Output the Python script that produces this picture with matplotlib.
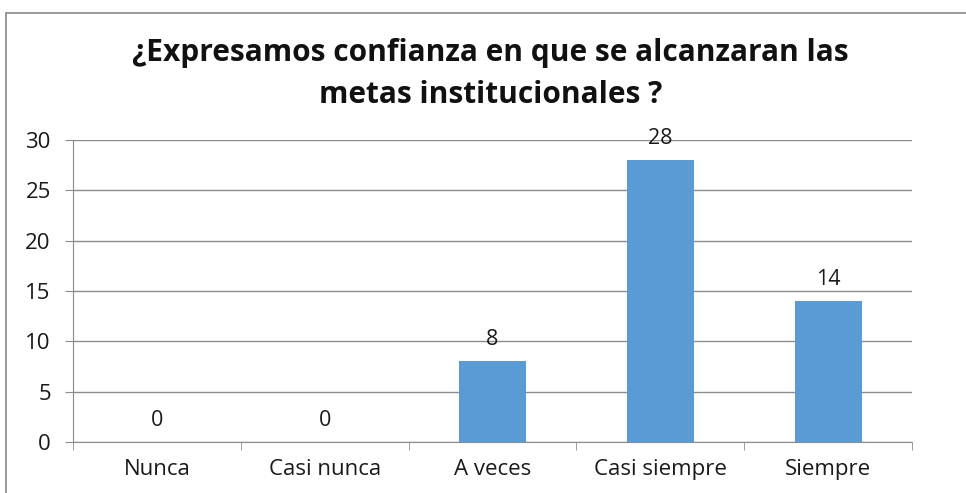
import matplotlib.pyplot as plt
from matplotlib.patches import Rectangle

categorias = ["Nunca", "Casi nunca", "A veces", "Casi siempre", "Siempre"]
valores = [0, 0, 8, 28, 14]
titulo = "¿Expresamos confianza en que se alcanzaran las\nmetas institucionales ?"

W, H = 966, 493
fig = plt.figure(figsize=(W / 100, H / 100), dpi=100)
fig.patch.set_facecolor("white")

# marco del grafico
fig.patches.append(Rectangle((6 / W, -0.05), 1.2, (H - 13) / H + 0.05,
                             transform=fig.transFigure, fill=False,
                             edgecolor="#888888", linewidth=1.2))

ax = fig.add_axes([73 / W, (H - 442) / H, (912 - 73) / W, (442 - 140) / H])
x = range(len(categorias))
ax.bar(x, valores, width=0.4, color="#5b9bd5", zorder=3)

for xi, v in zip(x, valores):
    ax.annotate(str(v), (xi, v), xytext=(0, 8), textcoords="offset points",
                ha="center", va="bottom", fontsize=15.5, family="Open Sans",
                color="#1a1a1a")

ax.set_xlim(-0.5, len(categorias) - 0.5)
ax.set_ylim(0, 30)
ax.set_yticks(range(0, 31, 5))
ax.yaxis.grid(True, color="#8c8c8c", linewidth=1, zorder=0)
ax.set_xticks(x)
ax.set_xticklabels(categorias)
ax.set_xticks([i - 0.5 for i in range(len(categorias) + 1)], minor=True)
ax.tick_params(axis="x", which="major", length=0, pad=12)
ax.tick_params(axis="x", which="minor", length=6, color="#8c8c8c")
ax.tick_params(axis="y", length=6, color="#8c8c8c", pad=10)
for lab in ax.get_xticklabels() + ax.get_yticklabels():
    lab.set_fontsize(16)
    lab.set_family("Open Sans")
    lab.set_color("#1a1a1a")

for s in ["top", "right"]:
    ax.spines[s].set_visible(False)
ax.spines["left"].set_color("#8c8c8c")
ax.spines["bottom"].set_color("#8c8c8c")

fig.text(0.508, (H - 74) / H, titulo, ha="center", va="center",
         fontsize=21.5, fontweight="bold", family="Open Sans",
         linespacing=1.5, color="#111111")

fig.savefig("out.png", dpi=100)
